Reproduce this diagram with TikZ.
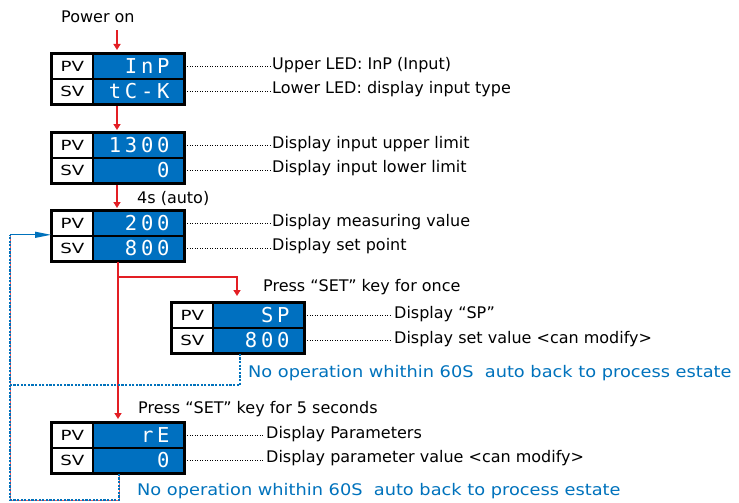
\documentclass[tikz,border=0pt]{standalone}
\usepackage{fontspec}
\usepackage{graphicx}
\setmainfont{DejaVu Sans}
\newfontfamily\segfont[LetterSpace=18]{DejaVu Sans Mono}
\usetikzlibrary{arrows.meta,calc}
\definecolor{ledblue}{RGB}{0,112,192}
\definecolor{txtblue}{RGB}{0,114,188}
\definecolor{arrred}{RGB}{227,30,36}
\newcommand\pvtext[1]{\scalebox{1.3}[1]{#1}}
\newcommand\widetext[1]{\scalebox{1.11}[1]{#1}}
\newcommand\lcddisp[5]{%
  \node[lbl] (#1pv) at (#2,#3) {\pvtext{PV}};
  \node[lbl] (#1sv) at (#2,#3+25) {\pvtext{SV}};
  \node[val] (#1pvv) at (#2+41,#3) {#4};
  \node[val] (#1svv) at (#2+41,#3+25) {#5};
  \draw[line width=2.2pt] (#1pv.north west) rectangle (#1svv.south east);
}
\begin{document}
\begin{tikzpicture}[x=1pt,y=-1pt,
  lbl/.style={draw=black,line width=1.8pt,fill=white,minimum width=41pt,minimum height=25pt,inner sep=0pt,anchor=north west,font=\fontsize{14}{14}\selectfont},
  val/.style={draw=black,line width=1.8pt,fill=ledblue,minimum width=91pt,minimum height=25pt,inner sep=0pt,text width=62pt,align=right,anchor=north west,text=white,font=\segfont\fontsize{20.5}{20.5}\selectfont},
  desc/.style={anchor=west,inner sep=2pt,font=\fontsize{16}{16}\selectfont},
  bnote/.style={anchor=west,inner sep=0pt,text=txtblue,font=\fontsize{16}{16}\selectfont},
  leader/.style={draw=black,line width=0.8pt,dash pattern=on 0.8pt off 1.7pt},
  redarr/.style={draw=arrred,line width=1.8pt,-{Triangle[length=6pt,width=7pt]}},
  bdot/.style={draw=txtblue,line width=2.2pt,dash pattern=on 2.2pt off 1.4pt},
  pinkline/.style={draw=arrred!70,line width=1pt},
  barr/.style={draw=txtblue,line width=1.2pt,-{Triangle[length=16pt,width=6pt]}}]
\useasboundingbox (0,0) rectangle (739,503);

% displays
\lcddisp{a}{51}{53}{InP}{tC-K}
\lcddisp{b}{51}{132}{1300}{0}
\lcddisp{c}{51}{210}{200}{800}
\lcddisp{s}{171}{302}{SP}{800}
\lcddisp{e}{51}{422}{rE}{0}

% texts
\node[desc] (pon) at (59,17) {Power on};
\node[desc] (la1) at (270,65) {Upper LED: InP (Input)};
\node[desc] (la2) at (270,89) {Lower LED: display input type};
\node[desc] (lb1) at (270,144) {Display input upper limit};
\node[desc] (lb2) at (270,168) {Display input lower limit};
\node[desc] (auto) at (135,198) {4s (auto)};
\node[desc] (lc1) at (270,222) {Display measuring value};
\node[desc] (lc2) at (270,246) {Display set point};
\node[desc] (pset1) at (261,287) {Press “SET” key for once};
\node[desc] (ls1) at (392,314) {Display “SP”};
\node[desc] (ls2) at (392,339) {Display set value <can modify>};
\node[bnote] (n1) at (248,373) {\widetext{No operation whithin 60S\ \ auto back to process estate}};
\node[desc] (pset5) at (136,409) {Press “SET” key for 5 seconds};
\node[desc] (le1) at (264,434) {Display Parameters};
\node[desc] (le2) at (264,458) {Display parameter value <can modify>};
\node[bnote] (n2) at (137,491) {\widetext{No operation whithin 60S\ \ auto back to process estate}};

% leaders
\foreach \d/\l in {apvv/la1,asvv/la2,bpvv/lb1,bsvv/lb2,cpvv/lc1,csvv/lc2,spvv/ls1,ssvv/ls2,epvv/le1,esvv/le2}
  \draw[leader] (\d.east) -- (\d.east -| \l.west);

% red flow
\coordinate (cx) at (117,0);
\coordinate (cy) at (118,0);
\coordinate (spx) at (237,0);
\draw[redarr,shorten <=5pt,shorten >=3pt] (cx |- pon.south) -- (cx |- apvv.north);
\draw[redarr,shorten <=1pt,shorten >=2pt] (cx |- asvv.south) -- (cx |- bpvv.north);
\draw[redarr,shorten <=1pt,shorten >=2pt] (cx |- bsvv.south) -- (cx |- cpvv.north);
\draw[redarr,shorten >=3pt] (cy |- csvv.south) -- (cy |- epvv.north);
\coordinate (br) at ($(cy |- csvv.south)+(0,15)$);
\draw[redarr,shorten >=6pt] (br) -| (spx |- spvv.north);

% blue return loops
\coordinate (sdrop) at (240,0);
\coordinate (edrop) at (119,0);
\coordinate (lx) at (10,0);
\coordinate (y1) at (0,385);
\coordinate (y2) at (0,500);
\coordinate (ain) at ($(cpv.south west)+(0,-2)$);
\draw[pinkline] (edrop |- esvv.south) |- (lx |- y2) -- (lx |- ain);
\draw[bdot] (sdrop |- ssvv.south) |- (lx |- y1);
\draw[bdot] (edrop |- esvv.south) |- (lx |- y2) -- (lx |- ain);
\draw[barr] (lx |- ain) -- (ain);
\end{tikzpicture}
\end{document}
